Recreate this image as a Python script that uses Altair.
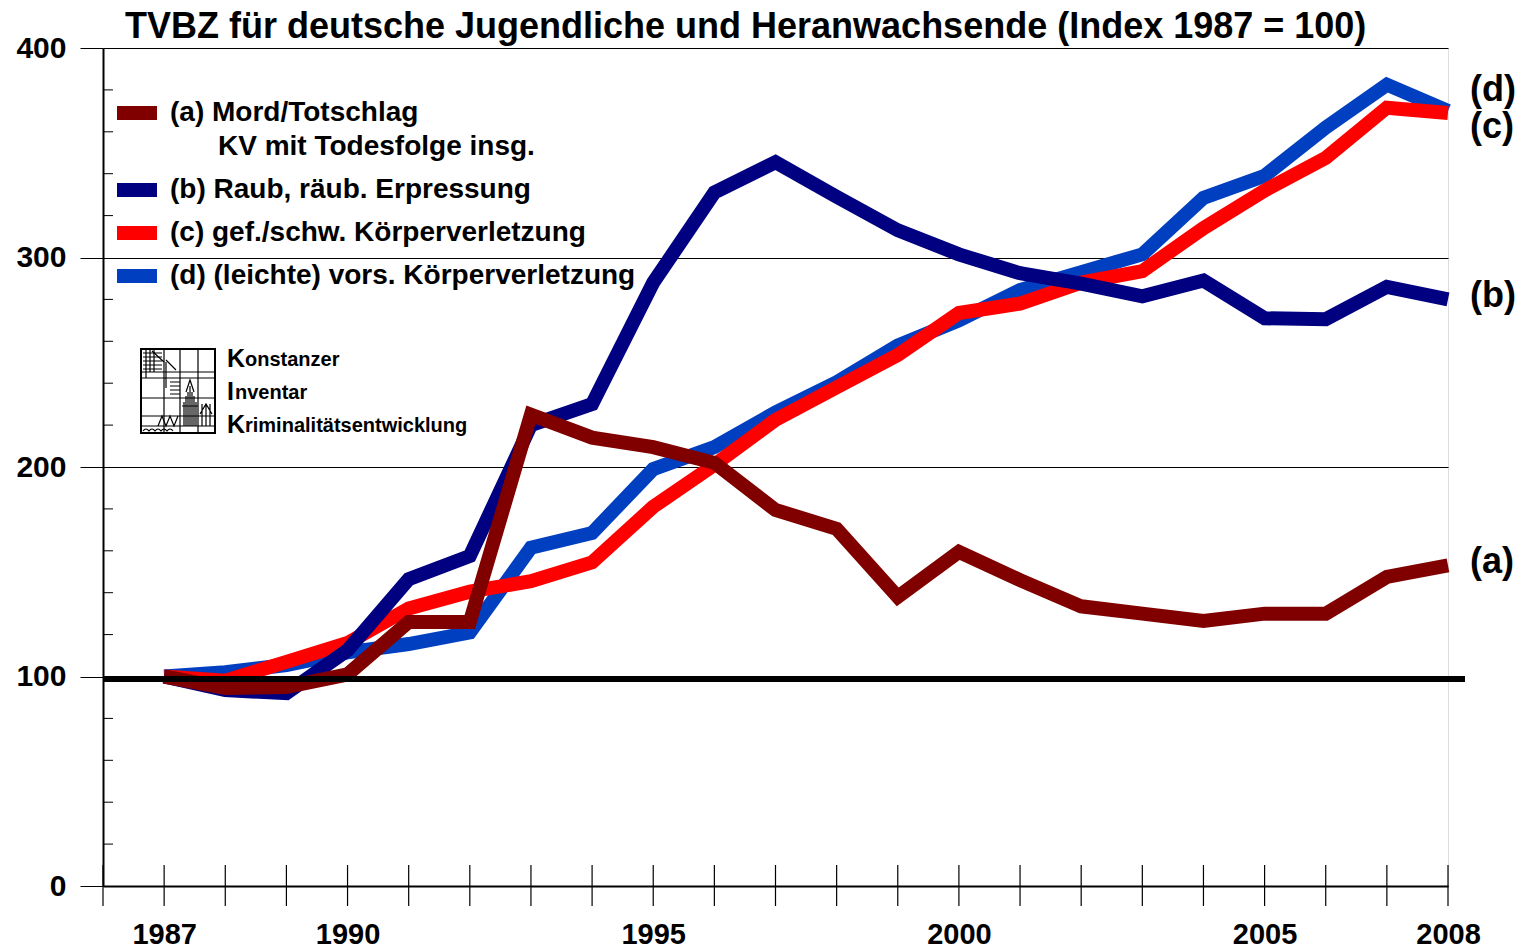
import base64
import altair as alt
import pandas as pd

# ---------------- data ----------------
years = list(range(1987, 2009))
mord = [100, 94.5, 95, 101, 126, 126, 225, 214, 209.5, 202, 179.5, 170.5,
        138, 159.5, 146, 133.5, 130, 126.5, 130, 130, 147.5, 153]
raub = [100, 93.5, 92, 112.5, 146.5, 157.5, 220, 230, 288, 331, 345.5, 329,
        313, 301.5, 292.5, 287.5, 281.5, 289, 271, 270.5, 286, 280]
gef = [100, 98, 107, 116, 132.5, 140.5, 145.5, 154.5, 181, 201, 222.5, 238,
       253.5, 273.5, 278, 288, 293.5, 314, 332, 347.5, 371.5, 369]
leicht = [100, 102, 105.5, 111.5, 115.5, 121, 161.5, 168.5, 199, 209.5, 226, 240.5,
          258, 270, 284.5, 293, 301.5, 328.5, 339, 362, 382.5, 370]

series_names = ["(a) Mord/Totschlag", "(b) Raub, räub. Erpressung",
                "(c) gef./schw. Körperverletzung", "(d) (leichte) vors. Körperverletzung"]
series_sub = "KV mit Todesfolge insg."
series_tags = ["(a)", "(b)", "(c)", "(d)"]
series_values = [mord, raub, gef, leicht]
colors = ["#800000", "#000080", "#FF0000", "#0040C0"]

x_labels = [1987, 1990, 1995, 2000, 2005, 2008]
x_ticks = list(range(1986, 2009))
y_major = [0, 100, 200, 300, 400]
y_minor = [v for v in range(20, 400, 20) if v % 100 != 0]
ref_value = 98.8

title = "TVBZ für deutsche Jugendliche und Heranwachsende (Index 1987 = 100)"
logo_words = ["Konstanzer", "Inventar", "Kriminalitätsentwicklung"]

# ---------------- styling ----------------
FONT = "Liberation Sans"
W, H = 1345, 838
label_dy = {"(a)": -3, "(b)": -3, "(c)": 14, "(d)": -21}
legend_rows_y = [65, 142, 185, 228]     # pixel rows of the legend entries
legend_sub_y = 99
legend_swatch_x = (14, 54)
legend_text_x = 67
legend_sub_x = 115

rows = []
for name, tag, vals in zip(series_names, series_tags, series_values):
    for yr, v in zip(years, vals):
        rows.append({"series": name, "tag": tag, "year": yr, "value": v})
df = pd.DataFrame(rows)

xscale = alt.Scale(domain=[1986, 2008], nice=False, zero=False)
yscale = alt.Scale(domain=[0, 400], nice=False)
cscale = alt.Scale(domain=series_names, range=colors)

x_enc = alt.X("year:Q", scale=xscale, title=None,
              axis=alt.Axis(values=x_labels, format="d", ticks=False, grid=False,
                            domain=True, domainColor="black", domainWidth=2,
                            labelFont=FONT, labelFontWeight="bold", labelFontSize=29,
                            labelColor="black", labelPadding=34, labelFlush=False))
y_enc = alt.Y("value:Q", scale=yscale, title=None,
              axis=alt.Axis(values=y_major, grid=True, gridColor="black", gridWidth=1,
                            gridOpacity=1, tickSize=23, tickColor="black", tickWidth=1,
                            domain=True, domainColor="black", domainWidth=2,
                            labelFont=FONT, labelFontWeight="bold", labelFontSize=30,
                            labelColor="black", labelPadding=14))
color_enc = alt.Color("series:N", scale=cscale, legend=None)

base = alt.Chart(df)

# x ticks crossing the axis line
xt = alt.Chart(pd.DataFrame({"year": x_ticks})).mark_rule(color="black", strokeWidth=1.2).encode(
    x=alt.X("year:Q", scale=xscale), y=alt.value(H - 21), y2=alt.value(H + 20))
# minor y ticks (inside)
yt = alt.Chart(pd.DataFrame({"value": y_minor})).mark_rule(color="black", strokeWidth=1).encode(
    y=alt.Y("value:Q", scale=yscale), x=alt.value(0), x2=alt.value(10))

layers = [xt, yt]
# draw order: d, c, b, a
for name in [series_names[3], series_names[2], series_names[1], series_names[0]]:
    layers.append(
        base.transform_filter(alt.datum.series == name)
        .mark_line(strokeWidth=14, strokeJoin="miter", strokeCap="butt")
        .encode(x=x_enc, y=y_enc, color=color_enc)
    )

ref = alt.Chart(pd.DataFrame({"value": [ref_value]})).mark_rule(color="black", strokeWidth=6).encode(
    y=alt.Y("value:Q", scale=yscale), x=alt.value(0), x2=alt.value(W + 17))
layers.append(ref)

# end labels (a)-(d)
for tag, vals in zip(series_tags, series_values):
    end_df = pd.DataFrame({"tag": [tag], "year": [years[-1]], "value": [vals[-1]]})
    layers.append(alt.Chart(end_df).mark_text(
        align="left", baseline="middle", dx=22, dy=label_dy[tag], font=FONT,
        fontWeight="bold", fontSize=36, color="black").encode(
        x=alt.X("year:Q", scale=xscale), y=alt.Y("value:Q", scale=yscale), text="tag:N"))

# legend (drawn as a key box in the upper left)
for name, ly in zip(series_names, legend_rows_y):
    sw = pd.DataFrame({"series": [name]})
    layers.append(alt.Chart(sw).mark_rule(strokeWidth=14, strokeCap="butt").encode(
        color=color_enc, x=alt.value(legend_swatch_x[0]), x2=alt.value(legend_swatch_x[1]),
        y=alt.value(ly)))
    layers.append(alt.Chart(sw).mark_text(
        align="left", baseline="middle", font=FONT, fontWeight="bold", fontSize=28, color="black"
    ).encode(text="series:N", x=alt.value(legend_text_x), y=alt.value(ly)))
layers.append(alt.Chart(pd.DataFrame({"t": [series_sub]})).mark_text(
    align="left", baseline="middle", font=FONT, fontWeight="bold", fontSize=28, color="black"
).encode(text="t:N", x=alt.value(legend_sub_x), y=alt.value(legend_sub_y)))

# logo (decoration)
svg = """<svg xmlns='http://www.w3.org/2000/svg' width='76' height='86' viewBox='0 0 76 86'>
<g stroke='black' fill='none' stroke-width='1.2'>
<rect x='1' y='1' width='74' height='84' stroke-width='2'/>
<path d='M24 1V85 M40 1V85 M58 1V85 M1 24H75 M1 30H75 M1 50H75 M1 68H75 M1 78H75'/>
<path d='M3 5H22 M3 9H22 M3 13H22 M3 17H22 M3 21H22 M6 1V30 M10 1V24 M14 1V24'/>
<path d='M12 3L24 14 M26 12L36 22 M26 14V40 M30 34H40 M30 38H40 M30 42H40 M30 46H40'/>
<path d='M46 44L50 32L54 44 M44 54V78 M46 48V78 M48 44V78 M50 38V78 M52 44V78 M54 48V78 M56 54V78 M42 58H58 M62 56V78 M66 56V78 M70 56V78 M60 66L66 56L72 66'/>
<path d='M18 78L22 68L26 78L30 68L34 78L38 68'/>
<path d='M3 83Q6 79 9 83Q12 79 15 83Q18 79 21 83Q24 79 27 83Q30 79 33 83'/>
</g></svg>"""
logo_url = "data:image/svg+xml;base64," + base64.b64encode(svg.encode("utf-8")).decode("ascii")
logo = alt.Chart(pd.DataFrame({"u": [logo_url]})).mark_image(width=76, height=86, align="left", baseline="top").encode(
    url="u:N", x=alt.value(37), y=alt.value(300))
layers.append(logo)

for i, word in enumerate(logo_words):
    yy = 311 + 33 * i
    layers.append(alt.Chart(pd.DataFrame({"t": [word[0]]})).mark_text(
        align="left", baseline="middle", font=FONT, fontWeight="bold", fontSize=25, color="black"
    ).encode(text="t:N", x=alt.value(124), y=alt.value(yy)))
    first_w = 18 if word[0] == "K" else 8
    layers.append(alt.Chart(pd.DataFrame({"t": [word[1:]]})).mark_text(
        align="left", baseline="middle", font=FONT, fontWeight="bold", fontSize=20, color="black"
    ).encode(text="t:N", x=alt.value(124 + first_w), y=alt.value(yy + 1)))

chart = alt.layer(*layers).properties(
    width=W, height=H,
    title=alt.TitleParams(title, font=FONT, fontWeight="bold", fontSize=36, color="black",
                          anchor="start", frame="group", dx=22, dy=19, offset=6),
    autosize=alt.AutoSizeParams(type="none"),
    padding={"left": 95, "top": 40, "right": 67, "bottom": 63},
).configure_view(stroke=None).configure(background="white")

chart.save("out.html", embed_options={"renderer": "svg", "actions": False})
